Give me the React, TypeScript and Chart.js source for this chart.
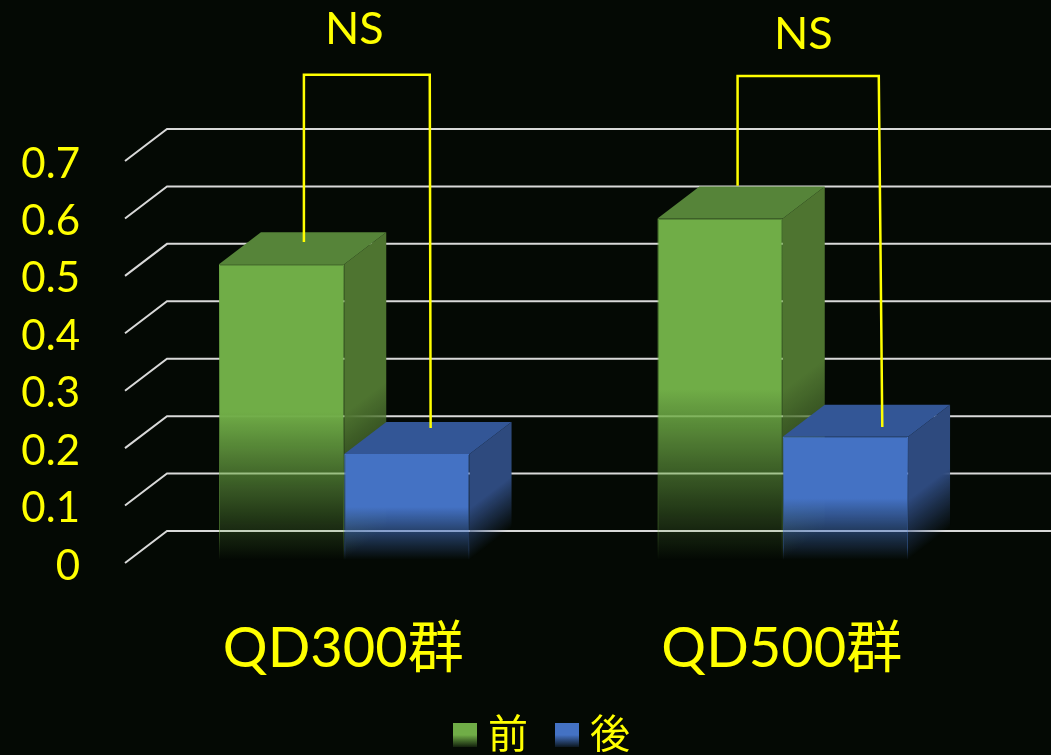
import React, { useEffect, useRef } from "react";
import { Chart, registerables } from "chart.js";

Chart.register(...registerables);

// Chart values
const categories = ["QD300群", "QD500群"];
const beforeLabel = "前";
const afterLabel = "後";
const beforeValues = [0.52, 0.6];
const afterValues = [0.19, 0.22];

// Significance brackets, in group units (x) and axis units (y)
const bracketA = [
  { x: 0.408, y: 0.559 },
  { x: 0.408, y: 0.85 },
  { x: 0.695, y: 0.85 },
  { x: 0.697, y: 0.235 },
];
const bracketB = [
  { x: 1.397, y: 0.657 },
  { x: 1.397, y: 0.848 },
  { x: 1.719, y: 0.848 },
  { x: 1.727, y: 0.237 },
];
const brackets = [bracketA, bracketB];
const noteText = "NS";
const notes = [
  { x: 0.523, y: 0.929 },
  { x: 1.547, y: 0.92 },
];

const BACKGROUND = "#040904";
const YELLOW = "#ffff00";
const GRID = "#d9d9d9";
const FONT = 'Lato, "Noto Sans CJK JP", sans-serif';
const DEPTH_X = 42;
const DEPTH_Y = 32;

const GREEN = { front: [112, 173, 71], top: [86, 132, 57], side: [78, 116, 48] };
const BLUE = { front: [68, 114, 196], top: [51, 86, 150], side: [46, 74, 126] };

const rgba = (c: number[], a: number) => `rgba(${c[0]},${c[1]},${c[2]},${a})`;

// Solid over the upper half of a bar, fading out towards the floor
function fade(ctx: CanvasRenderingContext2D, top: number, bottom: number, color: number[]) {
  const g = ctx.createLinearGradient(0, top, 0, bottom);
  g.addColorStop(0, rgba(color, 1));
  g.addColorStop(0.5, rgba(color, 1));
  g.addColorStop(1, rgba(color, 0));
  return g;
}

function barSpan(c: any) {
  const y = c.chart.scales.y;
  if (!y || c.raw == null) return null;
  const top = y.getPixelForValue(c.raw);
  const bottom = y.getPixelForValue(0) - 3;
  return Number.isFinite(top) && Number.isFinite(bottom) ? { top, bottom } : null;
}

function frontFill(color: number[]) {
  return (c: any) => {
    const span = barSpan(c);
    return span ? fade(c.chart.ctx, span.top, span.bottom, color) : rgba(color, 1);
  };
}

function frontEdge(color: number[]) {
  return (c: any) => {
    const span = barSpan(c);
    if (!span) return rgba(color, 1);
    const g = c.chart.ctx.createLinearGradient(0, span.top, 0, span.bottom);
    g.addColorStop(0, rgba(color, 1));
    g.addColorStop(0.9, rgba(color, 0.55));
    g.addColorStop(1, rgba(color, 0));
    return g;
  };
}

// Side-face fade: runs square to the receding floor edge, so it follows the diagonal
function sideFade(ctx: CanvasRenderingContext2D, r: number, t: number, b: number, color: number[]) {
  const len = Math.hypot(DEPTH_X, DEPTH_Y);
  const nx = DEPTH_Y / len;
  const ny = DEPTH_X / len;
  const mid = (t + b) / 2;
  const dist = (b - 3 - mid) * ny;
  const g = ctx.createLinearGradient(r, mid, r + nx * dist, mid + ny * dist);
  g.addColorStop(0, rgba(color, 1));
  g.addColorStop(1, rgba(color, 0));
  return g;
}

// Floor and wall grid, from the value axis ticks
const wallGrid = {
  id: "wallGrid",
  beforeDatasetsDraw(chart: any) {
    const { ctx, scales } = chart;
    const left = scales.x.left;
    ctx.save();
    ctx.strokeStyle = GRID;
    ctx.lineWidth = 2;
    for (const tick of scales.y.ticks) {
      const py = scales.y.getPixelForValue(tick.value);
      ctx.beginPath();
      ctx.moveTo(left, py);
      ctx.lineTo(left + DEPTH_X, py - DEPTH_Y);
      ctx.lineTo(chart.width, py - DEPTH_Y);
      ctx.stroke();
    }
    ctx.restore();
  },
};

// Side and top faces of one bar
function drawFaces(ctx: CanvasRenderingContext2D, bar: any, palette: typeof GREEN) {
  const l = bar.x - bar.width / 2;
  const r = bar.x + bar.width / 2;
  const t = bar.y;
  const b = bar.base;
  ctx.fillStyle = sideFade(ctx, r, t, b, palette.side);
  ctx.beginPath();
  ctx.moveTo(r, t);
  ctx.lineTo(r + DEPTH_X, t - DEPTH_Y);
  ctx.lineTo(r + DEPTH_X, b - DEPTH_Y);
  ctx.lineTo(r, b);
  ctx.closePath();
  ctx.fill();
  ctx.fillStyle = rgba(palette.top, 1);
  ctx.beginPath();
  ctx.moveTo(l, t);
  ctx.lineTo(l + DEPTH_X, t - DEPTH_Y);
  ctx.lineTo(r + DEPTH_X, t - DEPTH_Y);
  ctx.lineTo(r, t);
  ctx.closePath();
  ctx.fill();
}

// Paints the series in data order so the later one overlaps the earlier one
const barDepth = {
  id: "barDepth",
  beforeDatasetDraw: () => false,
  afterDatasetsDraw(chart: any) {
    const { ctx } = chart;
    chart.data.datasets.forEach((ds: any, i: number) => {
      const meta = chart.getDatasetMeta(i);
      ctx.save();
      for (const bar of meta.data) drawFaces(ctx, bar, ds.palette);
      ctx.restore();
      meta.controller.draw();
    });
  },
};

// Brackets, "NS" notes and the legend
const overlays = {
  id: "overlays",
  afterDraw(chart: any) {
    const { ctx, scales } = chart;
    ctx.save();
    ctx.strokeStyle = YELLOW;
    ctx.lineWidth = 2.5;
    ctx.lineJoin = "miter";
    for (const pts of brackets) {
      ctx.beginPath();
      pts.forEach((p, i) => {
        const px = scales.xb.getPixelForValue(p.x);
        const py = scales.y.getPixelForValue(p.y);
        if (i === 0) ctx.moveTo(px, py);
        else ctx.lineTo(px, py);
      });
      ctx.stroke();
    }
    ctx.fillStyle = YELLOW;
    ctx.textAlign = "center";
    ctx.textBaseline = "middle";
    ctx.font = `45px ${FONT}`;
    for (const n of notes) {
      ctx.fillText(noteText, scales.xb.getPixelForValue(n.x), scales.y.getPixelForValue(n.y));
    }
    const entries = [
      { label: beforeLabel, color: GREEN.front, x: 453 },
      { label: afterLabel, color: BLUE.front, x: 555 },
    ];
    ctx.textAlign = "left";
    ctx.font = `40px ${FONT}`;
    for (const e of entries) {
      const g = ctx.createLinearGradient(0, 723, 0, 747);
      g.addColorStop(0, rgba(e.color, 1));
      g.addColorStop(0.5, rgba(e.color, 1));
      g.addColorStop(1, rgba(e.color, 0.15));
      ctx.fillStyle = g;
      ctx.fillRect(e.x, 723, 24, 24);
      ctx.fillStyle = YELLOW;
      ctx.fillText(e.label, e.x + 35, 735);
    }
    ctx.restore();
  },
};

export default function App() {
  const ref = useRef<HTMLCanvasElement>(null);

  useEffect(() => {
    const chart = new Chart(ref.current!, {
      type: "bar",
      data: {
        labels: categories,
        datasets: [
          {
            label: beforeLabel,
            data: beforeValues,
            palette: GREEN,
            backgroundColor: frontFill(GREEN.front),
            borderColor: frontEdge(GREEN.front),
            borderWidth: 1,
          },
          {
            label: afterLabel,
            data: afterValues,
            palette: BLUE,
            backgroundColor: frontFill(BLUE.front),
            borderColor: frontEdge(BLUE.front),
            borderWidth: 1,
          },
        ] as any,
      },
      options: {
        responsive: false,
        animation: false,
        layout: { padding: { left: 0, right: 49, top: 161, bottom: 0 } },
        datasets: { bar: { categoryPercentage: 0.5715, barPercentage: 1 } },
        plugins: { legend: { display: false }, tooltip: { enabled: false } },
        scales: {
          x: {
            type: "category",
            grid: { display: false },
            border: { display: false },
            ticks: { color: YELLOW, font: { family: FONT, size: 56 }, padding: 44, maxRotation: 0, labelOffset: -1 },
            afterFit: (s: any) => { s.height = 192; },
          },
          xb: { type: "linear", display: false, offset: false, min: 0, max: 2 },
          y: {
            min: 0,
            max: 0.7,
            grid: { display: false, drawTicks: false },
            border: { display: false },
            ticks: {
              stepSize: 0.1,
              color: YELLOW,
              font: { family: FONT, size: 42 },
              padding: 45,
              labelOffset: 3,
              callback: (v: any) => String(Number(Number(v).toFixed(1))),
            },
            afterFit: (s: any) => { s.width = 125; },
          },
        },
      } as any,
      plugins: [wallGrid, barDepth, overlays],
    });
    return () => chart.destroy();
  }, []);

  return (
    <div style={{ position: "fixed", left: 0, top: 0, width: 1051, height: 755, background: BACKGROUND }}>
      <canvas ref={ref} width={1051} height={755} style={{ display: "block" }} />
    </div>
  );
}
